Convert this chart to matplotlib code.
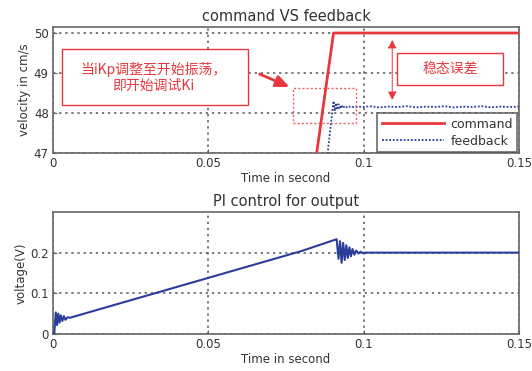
import matplotlib
matplotlib.use("Agg")
import matplotlib.pyplot as plt
from matplotlib.patches import Rectangle

plt.rcParams['font.family'] = ['DejaVu Sans', 'Noto Sans CJK SC']

# ---- data ----
cmd_t = [0.0, 0.0903, 0.15]
cmd_v = [0.0, 50.0, 50.0]

fb_t = [0.0, 0.0040, 0.0884, 0.0897, 0.0903, 0.0907, 0.0911, 0.0915, 0.0919, 0.0923,
        0.0928, 0.0933, 0.0940, 0.0948, 0.0958, 0.0970, 0.0985, 0.1000, 0.1020,
        0.1050, 0.1080, 0.1110, 0.1140, 0.1170, 0.1200, 0.1230, 0.1260, 0.1290,
        0.1320, 0.1350, 0.1380, 0.1410, 0.1440, 0.1470, 0.1500]
fb_v = [0.0, 0.0, 47.0, 47.9, 48.3, 48.05, 48.25, 48.08, 48.22, 48.1,
        48.2, 48.12, 48.18, 48.13, 48.17, 48.14, 48.16, 48.15, 48.17,
        48.14, 48.16, 48.15, 48.17, 48.14, 48.16, 48.15, 48.17, 48.14,
        48.16, 48.15, 48.17, 48.14, 48.16, 48.15, 48.16]

u_t = [0.0, 0.0004, 0.0009, 0.0013, 0.0017, 0.0021, 0.0025, 0.0030, 0.0035, 0.0040,
       0.0047, 0.0055, 0.0200, 0.0350, 0.0500, 0.0650, 0.0800,
       0.0913, 0.0919, 0.0924, 0.0929, 0.0934, 0.0939, 0.0944, 0.0949, 0.0954,
       0.0959, 0.0964, 0.0970, 0.0976, 0.0983, 0.0990, 0.0997, 0.1005,
       0.1200, 0.1500]
u_v = [0.0, 0.0, 0.053, 0.022, 0.05, 0.028, 0.046, 0.032, 0.044, 0.035,
       0.041, 0.040, 0.072, 0.105, 0.138, 0.171, 0.204,
       0.233, 0.185, 0.228, 0.175, 0.224, 0.182, 0.218, 0.187, 0.213,
       0.191, 0.209, 0.195, 0.205, 0.198, 0.202, 0.199, 0.200,
       0.200, 0.200]

x_ticks = [0, 0.05, 0.1, 0.15]
x_ticklabels = ['0', '0.05', '0.1', '0.15']
v_ticks = [47, 48, 49, 50]
u_ticks = [0, 0.1, 0.2]
u_ticklabels = ['0', '0.1', '0.2']

red = '#e8383d'
blue = '#2b3d9a'
txt = '#333333'

fig = plt.figure(figsize=(5.32, 3.71), dpi=100)
ax1 = fig.add_axes([0.0996, 0.5876, 0.876, 0.3396])
ax2 = fig.add_axes([0.0996, 0.0997, 0.876, 0.329])

def style(ax):
    for s in ax.spines.values():
        s.set_color('#666666')
        s.set_linewidth(1.2)
    ax.tick_params(direction='in', length=3, color='#666666', labelsize=8.5,
                   labelcolor=txt, pad=3)
    ax.grid(True, color='#555555', linestyle=(0, (1.5, 2.5)), linewidth=1.1)
    ax.set_axisbelow(True)

# ---- top plot ----
ax1.plot(cmd_t, cmd_v, color=red, lw=2, label='command', zorder=3)
ax1.plot(fb_t, fb_v, color=blue, lw=1.3, linestyle=(0, (1, 1)), label='feedback', zorder=3)
ax1.set_xlim(0, 0.15)
ax1.set_ylim(47, 50.15)
ax1.set_xticks(x_ticks)
ax1.set_xticklabels(x_ticklabels)
ax1.set_yticks(v_ticks)
style(ax1)
ax1.set_title('command VS feedback', fontsize=10.5, color=txt, pad=4)
ax1.set_xlabel('Time in second', fontsize=8.5, color=txt, labelpad=1)
ax1.set_ylabel('velocity in cm/s', fontsize=8.5, color=txt, labelpad=2)
leg = ax1.legend(loc='lower right', bbox_to_anchor=(0.996, 0.008), borderaxespad=0,
                 fontsize=9, frameon=True, fancybox=False, handlelength=5.0,
                 borderpad=0.35, labelspacing=0.3, handletextpad=0.5)
leg.get_frame().set_edgecolor('#555555')
leg.get_frame().set_linewidth(1.3)
for t in leg.get_texts():
    t.set_color(txt)

# annotation box 1
ax1.add_patch(Rectangle((0.019, 0.381), 0.399, 0.444, transform=ax1.transAxes,
                        facecolor='white', edgecolor=red, lw=1, zorder=4))
ax1.text(0.2155, 0.60, '当iKp调整至开始振荡，\n即开始调试Ki', transform=ax1.transAxes,
         ha='center', va='center', fontsize=10, color=red, family=['Noto Sans CJK SC'],
         linespacing=1.1, zorder=5)
# dashed red rectangle
ax1.add_patch(Rectangle((0.515, 0.238), 0.135, 0.278, transform=ax1.transAxes,
                        facecolor='none', edgecolor=red, lw=1, linestyle=(0, (1.5, 1.5)),
                        zorder=4, alpha=0.8))
ax1.annotate('', xy=(0.513, 0.516), xytext=(0.438, 0.635), xycoords='axes fraction',
             arrowprops=dict(arrowstyle='-|>,head_length=0.8,head_width=0.35',
                             color=red, lw=2), zorder=5)
# box 2
ax1.add_patch(Rectangle((0.738, 0.540), 0.228, 0.254, transform=ax1.transAxes,
                        facecolor='white', edgecolor=red, lw=1, zorder=4))
ax1.text(0.852, 0.667, '稳态误差', transform=ax1.transAxes, ha='center', va='center',
         fontsize=10, color=red, family=['Noto Sans CJK SC'], zorder=5)
ax1.annotate('', xy=(0.728, 0.397), xytext=(0.728, 0.921), xycoords='axes fraction',
             arrowprops=dict(arrowstyle='<|-|>,head_length=0.5,head_width=0.25',
                             color=red, lw=0.8, linestyle=(0, (1.5, 1))), zorder=5)

# ---- bottom plot ----
ax2.plot(u_t, u_v, color=blue, lw=1.5, zorder=3)
ax2.set_xlim(0, 0.15)
ax2.set_ylim(0, 0.3)
ax2.set_xticks(x_ticks)
ax2.set_xticklabels(x_ticklabels)
ax2.set_yticks(u_ticks)
ax2.set_yticklabels(u_ticklabels)
style(ax2)
ax2.set_title('PI control for output', fontsize=10.5, color=txt, pad=4)
ax2.set_xlabel('Time in second', fontsize=8.5, color=txt, labelpad=1)
ax2.set_ylabel('voltage(V)', fontsize=8.5, color=txt, labelpad=2)

fig.savefig('out.png', dpi=100)
